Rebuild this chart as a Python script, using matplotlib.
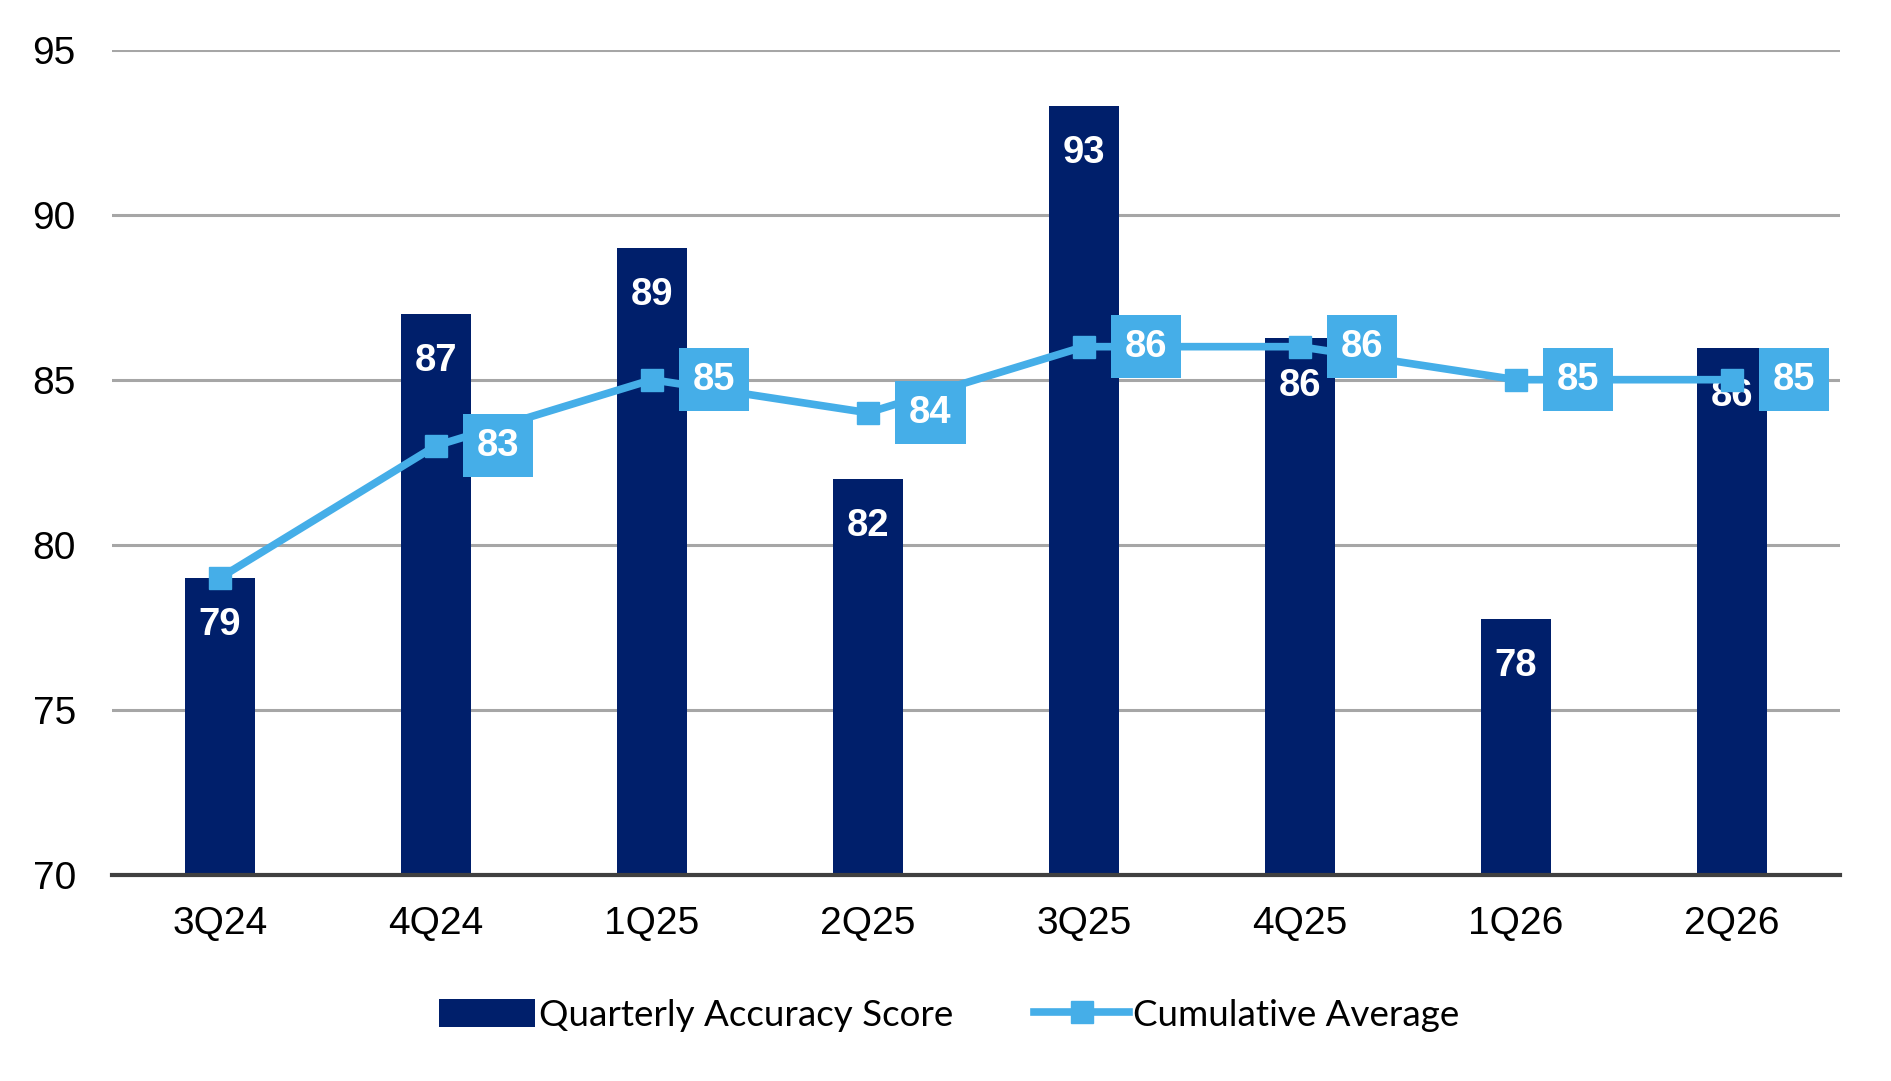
import matplotlib
matplotlib.use("Agg")
import matplotlib.pyplot as plt
import numpy as np

# data
quarters = ["3Q24", "4Q24", "1Q25", "2Q25", "3Q25", "4Q25", "1Q26", "2Q26"]
accuracy_score = [79.0, 87.0, 89.0, 82.0, 93.3, 86.25, 77.75, 85.95]
cumulative_avg = [79.0, 83.0, 85.0, 84.0, 86.0, 86.0, 85.0, 85.0]
yticks = [70, 75, 80, 85, 90, 95]

navy = "#001F6B"
light_blue = "#45AEE8"

plt.rcParams["font.family"] = ["Liberation Sans", "DejaVu Sans"]

fig = plt.figure(figsize=(18.91, 10.81), dpi=100)
ax = fig.add_axes([0.0592, 0.1906, 0.9138, 0.7636])

x = np.arange(len(quarters))
bars = ax.bar(x, accuracy_score, width=0.32, color=navy, zorder=2,
              label="Quarterly Accuracy Score")

# bar labels inside the top
for xi, val in zip(x, accuracy_score):
    ax.annotate(f"{val:.0f}", (xi, val), xytext=(0, -34), textcoords="offset points",
                ha="center", va="center", color="white", fontsize=27.5,
                fontweight="bold", zorder=3)

line, = ax.plot(x, cumulative_avg, color=light_blue, linewidth=5.5, marker="s",
                markersize=16.5, zorder=4, label="Cumulative Average")

# line labels in boxes to the right of the markers
for xi, val in list(zip(x, cumulative_avg))[1:]:
    ax.annotate(f"{val:.0f}", (xi, val), xytext=(45, 0), textcoords="offset points",
                ha="center", va="center", color="white", fontsize=27.5,
                fontweight="bold", zorder=5,
                bbox=dict(boxstyle="square,pad=0.36", fc=light_blue, ec="none"))

ax.set_ylim(70, 95)
ax.set_xlim(-0.5, 7.5)
ax.set_yticks(yticks)
ax.set_xticks(x)
ax.set_xticklabels(quarters)
ax.tick_params(axis="both", length=0, labelsize=28)
ax.tick_params(axis="x", pad=22.5)
ax.tick_params(axis="y", pad=26)

ax.grid(axis="y", color="#A6A6A6", linewidth=2.2, zorder=0)
ax.set_axisbelow(True)
for side in ["top", "right", "left"]:
    ax.spines[side].set_visible(False)
ax.spines["bottom"].set_color("#404040")
ax.spines["bottom"].set_linewidth(3)
ax.spines["bottom"].set_zorder(3)

fig.legend(handles=[bars, line], loc="center", bbox_to_anchor=(0.502, 0.061),
           ncol=2, frameon=False, prop={"family": "Lato", "size": 26.5},
           handlelength=2.6, handleheight=0.8, columnspacing=2.2, handletextpad=0.1)

fig.savefig("out.png", dpi=100)
